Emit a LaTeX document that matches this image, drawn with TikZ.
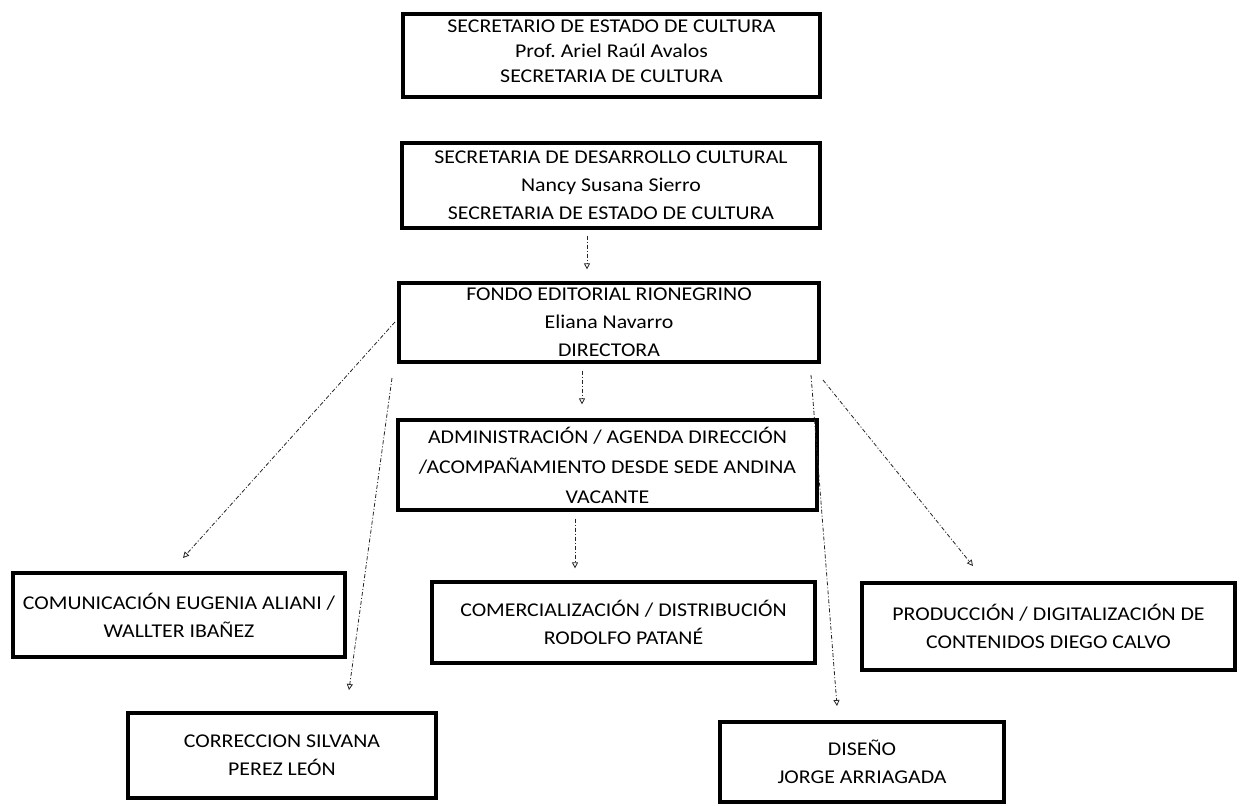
\documentclass[tikz,border=0pt]{standalone}
\usepackage{fontspec}
\setmainfont{Carlito}[FakeStretch=1.12]
\usetikzlibrary{arrows.meta}
\tikzset{
  box/.style={draw=black, line width=3.2pt, inner sep=0pt, align=center,
    font=\fontsize{19.5}{28}\selectfont},
  txt/.style={inner sep=0pt, align=center, font=\fontsize{19.5}{25}\selectfont},
  con/.style={draw=black!85, line width=0.8pt,
    dash pattern=on 4pt off 2pt on 1pt off 2pt,
    -{Triangle[open,length=6pt,width=6pt,line width=0.8pt]}}
}
\begin{document}
\begin{tikzpicture}[x=1pt,y=-1pt]
\useasboundingbox[fill=white] (0,0) rectangle (1251,806);

% boxes
\node[box, minimum width=417pt, minimum height=83pt] (sec) at (611.5,55.5) {};
\node[txt] (sectext) at (611.5,51) {SECRETARIO DE ESTADO DE CULTURA\\Prof.\ Ariel Raúl Avalos\\SECRETARIA DE CULTURA};

\node[box, minimum width=418pt, minimum height=85pt] (sdc) at (611,185.5)
  {SECRETARIA DE DESARROLLO CULTURAL\\Nancy Susana Sierro\\SECRETARIA DE ESTADO DE CULTURA};

\node[box, minimum width=420pt, minimum height=79pt] (fer) at (609,322.5)
  {FONDO EDITORIAL RIONEGRINO\\Eliana Navarro\\DIRECTORA};

\node[box, minimum width=419pt, minimum height=90pt, font=\fontsize{19.5}{30}\selectfont] (adm) at (607.5,465)
  {ADMINISTRACIÓN / AGENDA DIRECCIÓN\\/ACOMPAÑAMIENTO DESDE SEDE ANDINA\\VACANTE};

\node[box, minimum width=332pt, minimum height=84pt] (com) at (179,615)
  {COMUNICACIÓN EUGENIA ALIANI /\\WALLTER IBAÑEZ};

\node[box, minimum width=383pt, minimum height=81pt] (cme) at (623.5,622.5)
  {COMERCIALIZACIÓN / DISTRIBUCIÓN\\RODOLFO PATANÉ};

\node[box, minimum width=373pt, minimum height=87pt] (pro) at (1048.5,626.5)
  {PRODUCCIÓN / DIGITALIZACIÓN DE\\CONTENIDOS DIEGO CALVO};

\node[box, minimum width=308pt, minimum height=85pt] (cor) at (282,755.5)
  {CORRECCION SILVANA\\PEREZ LEÓN};

\node[box, minimum width=284pt, minimum height=80pt] (dis) at (862,762)
  {DISEÑO\\JORGE ARRIAGADA};

% free ends of the diagonal connectors
\coordinate (s1) at (395,322);
\coordinate (e1) at (183,558);
\coordinate (s2) at (392,378);
\coordinate (e2) at (349,690);
\coordinate (s3) at (811,375);
\coordinate (e3) at (837,706);
\coordinate (s4) at (823,380);
\coordinate (e4) at (973,566);

% vertical connectors
\draw[con] ([xshift=-24pt,yshift=-6pt]sdc.south) -- ([xshift=-22pt,yshift=12pt]fer.north);
\draw[con] ([xshift=-27pt,yshift=-7pt]fer.south) -- ([xshift=-25.5pt,yshift=14pt]adm.north);
\draw[con] ([xshift=-32.5pt,yshift=-7pt]adm.south) -- ([xshift=-48.5pt,yshift=12pt]cme.north);

% diagonal connectors
\draw[con] (s1) -- (e1);
\draw[con] (s2) -- (e2);
\draw[con] (s3) -- (e3);
\draw[con] (s4) -- (e4);
\end{tikzpicture}
\end{document}
